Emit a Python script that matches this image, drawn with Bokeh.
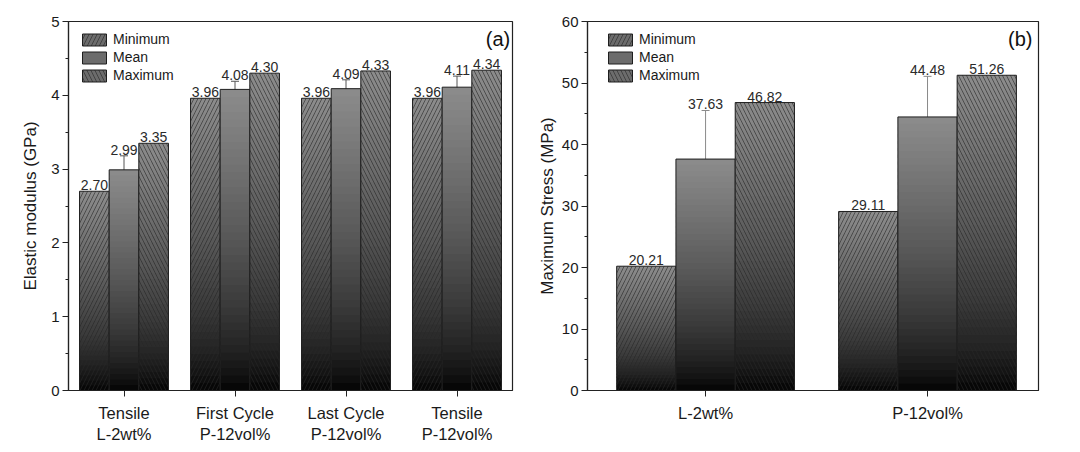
from bokeh.plotting import figure
from bokeh.models import (ColumnDataSource, FixedTicker, Whisker, TeeHead,
                          Legend, LegendItem, Label, Range1d)
from bokeh.layouts import row
from bokeh.embed import file_html
from bokeh.resources import INLINE
from bokeh.core.properties import value

FONT = "Liberation Sans"

# ---------------- data: panel (a) ----------------
a_categories = ["Tensile\nL-2wt%", "First Cycle\nP-12vol%",
                "Last Cycle\nP-12vol%", "Tensile\nP-12vol%"]
a_minimum = [2.70, 3.96, 3.96, 3.96]
a_mean = [2.99, 4.08, 4.09, 4.11]
a_maximum = [3.35, 4.30, 4.33, 4.34]
a_mean_err = [0.19, 0.11, 0.12, 0.15]
a_yticks = [0, 1, 2, 3, 4, 5]
a_yminor = [0.5, 1.5, 2.5, 3.5, 4.5]

# ---------------- data: panel (b) ----------------
b_categories = ["L-2wt%", "P-12vol%"]
b_minimum = [20.21, 29.11]
b_mean = [37.63, 44.48]
b_maximum = [46.82, 51.26]
b_mean_err = [7.9, 6.6]
b_yticks = [0, 10, 20, 30, 40, 50, 60]
b_yminor = [5, 15, 25, 35, 45, 55]

series_names = ["Minimum", "Mean", "Maximum"]
series_hatch = ["/", None, "\\"]

BW = 0.267
OFFSETS = [-BW, 0.0, BW]

HATCH = dict(hatch_color="#262626", hatch_alpha=0.6, hatch_scale=8,
             hatch_weight=1)


def gradient_source(xs, vals, n=40):
    x, bot, top, col = [], [], [], []
    for xi, v in zip(xs, vals):
        for i in range(n):
            t = (i + 0.5) / n
            g = int(round(140 * t ** 0.7))
            x.append(xi)
            bot.append(v * i / n)
            top.append(min(v, v * (i + 1.5) / n))
            col.append("#%02x%02x%02x" % (g, g, g))
    return ColumnDataSource(dict(x=x, bottom=bot, top=top, color=col))


def make_panel(categories, series, errs, yticks, yminor, x_range, y_range,
               ylabel, tag, tag_xy, frame_w, border_left, border_right,
               label_standoff, legend_x, err_color):
    p = figure(frame_width=frame_w, frame_height=369,
               min_border_left=border_left, min_border_right=border_right,
               min_border_top=21, min_border_bottom=58,
               x_range=Range1d(*x_range), y_range=Range1d(*y_range),
               output_backend="svg", toolbar_location=None, tools="")
    p.background_fill_color = "white"
    p.border_fill_color = "white"
    p.grid.visible = False
    p.outline_line_color = "#222222"
    p.outline_line_width = 1.2

    ncat = len(categories)
    centers = [i + 1 for i in range(ncat)]

    for k, vals in enumerate(series):
        xs = [c + OFFSETS[k] for c in centers]
        gsrc = gradient_source(xs, vals)
        p.vbar(x="x", bottom="bottom", top="top", width=BW, source=gsrc,
               fill_color="color", line_color=None)
        kw = dict(fill_color=None, line_color="#1e1e1e", line_width=1)
        if series_hatch[k]:
            kw.update(hatch_pattern=series_hatch[k], **HATCH)
        p.vbar(x=xs, top=vals, bottom=0, width=BW, **kw)

    # error bars on mean
    mean_vals = series[1]
    mxs = [c + OFFSETS[1] for c in centers]
    wsrc = ColumnDataSource(dict(base=mxs,
                                 upper=[m + e for m, e in zip(mean_vals, errs)],
                                 lower=[m - e for m, e in zip(mean_vals, errs)]))
    p.add_layout(Whisker(base="base", upper="upper", lower="lower", source=wsrc,
                         line_color=err_color, line_width=1,
                         upper_head=TeeHead(size=8, line_color=err_color, line_width=1),
                         lower_head=TeeHead(size=8, line_color=err_color, line_width=1)))

    # value labels
    for k, vals in enumerate(series):
        xs = [c + OFFSETS[k] for c in centers]
        ys = list(vals) if k != 1 else [m + e for m, e in zip(vals, errs)]
        p.text(x=xs, y=ys, text=["%.2f" % v for v in vals],
               text_align="center", text_baseline="bottom",
               text_font=value(FONT), text_font_size="14px",
               text_color="#2a2a2a", y_offset=-1)

    # legend (zero-height proxy bars sitting on the baseline)
    items = []
    for k, name in enumerate(series_names):
        kw = dict(fill_color="#6c6c6c", line_color="#1e1e1e", line_width=1)
        if series_hatch[k]:
            kw.update(hatch_pattern=series_hatch[k], **HATCH)
        r = p.vbar(x=[centers[0] + OFFSETS[k]], top=[0], bottom=0, width=BW, **kw)
        items.append(LegendItem(label=name, renderers=[r]))
    leg = Legend(items=items, location=(legend_x, 307),
                 glyph_width=30, glyph_height=15, label_height=15,
                 spacing=2, padding=0, margin=0, label_standoff=4,
                 border_line_color=None, background_fill_alpha=0,
                 label_text_font=FONT, label_text_font_size="14px",
                 label_text_color="#1a1a1a")
    p.add_layout(leg)

    p.add_layout(Label(x=tag_xy[0], y=tag_xy[1], text=tag, text_align="right",
                       text_baseline="top", text_font=FONT,
                       text_font_size="20px", text_color="#111111"))

    # axes
    xa = p.xaxis[0]
    xa.ticker = FixedTicker(ticks=centers, minor_ticks=[])
    xa.major_label_overrides = {c: lab for c, lab in zip(centers, categories)}
    xa.major_label_text_font = FONT
    xa.major_label_text_font_size = "16.5px"
    xa.major_label_text_color = "#1a1a1a"
    xa.major_label_standoff = 7
    xa.major_tick_out = 6
    xa.major_tick_in = 0
    xa.minor_tick_out = 0
    xa.axis_line_color = "#222222"
    xa.axis_line_width = 1.2
    xa.major_tick_line_color = "#222222"

    ya = p.yaxis[0]
    ya.ticker = FixedTicker(ticks=yticks, minor_ticks=yminor)
    ya.major_label_text_font = FONT
    ya.major_label_text_font_size = "15px"
    ya.major_label_text_color = "#1a1a1a"
    ya.major_label_standoff = 3
    ya.major_tick_out = 6
    ya.major_tick_in = 0
    ya.minor_tick_out = 3
    ya.minor_tick_in = 0
    ya.axis_line_color = "#222222"
    ya.axis_line_width = 1.2
    ya.major_tick_line_color = "#222222"
    ya.minor_tick_line_color = "#222222"
    ya.axis_label = ylabel
    ya.axis_label_text_font = FONT
    ya.axis_label_text_font_size = "17px"
    ya.axis_label_text_font_style = "normal"
    ya.axis_label_text_color = "#1a1a1a"
    ya.axis_label_standoff = label_standoff
    return p


pa = make_panel(a_categories, [a_minimum, a_mean, a_maximum], a_mean_err,
                a_yticks, a_yminor, (0.5, 4.5), (0, 5),
                "Elastic modulus (GPa)", "(a)", (4.48, 4.91),
                444, 68, 22, 8, 11, "#555555")
pb = make_panel(b_categories, [b_minimum, b_mean, b_maximum], b_mean_err,
                b_yticks, b_yminor, (0.468, 2.5), (0, 60),
                "Maximum Stress (MPa)", "(b)", (2.473, 58.9),
                451, 48, 20, 2, 18, "#8a8a8a")

layout = row(pa, pb)
open("out.html", "w").write(file_html(layout, INLINE))
